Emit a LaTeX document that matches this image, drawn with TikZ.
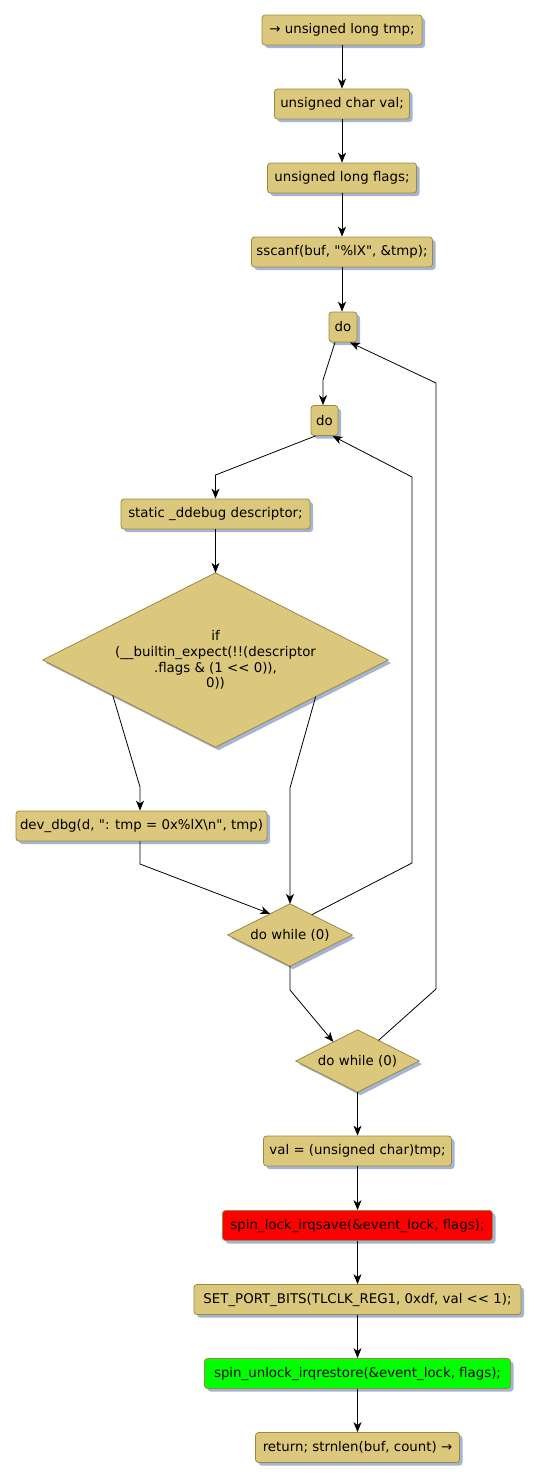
\documentclass[tikz,border=0pt]{standalone}
\usepackage{fontspec}
\setmainfont{DejaVu Sans}[Ligatures=TeXOff]
\usetikzlibrary{shadows,arrows.meta,calc}
\definecolor{boxfill}{HTML}{DCC87D}
\definecolor{boxdraw}{HTML}{9C8840}
\definecolor{shadowc}{HTML}{A4B4D4}
\definecolor{lockred}{HTML}{FF0000}
\definecolor{lockgreen}{HTML}{00FF00}
\tikzset{
  bshadow/.style={drop shadow={shadow xshift=3pt, shadow yshift=-3pt, fill=shadowc, opacity=1}},
  stepbox/.style={draw=boxdraw, fill=boxfill, rounded corners=3pt, line width=0.8pt,
    minimum height=30pt, inner xsep=4pt, inner ysep=0pt,
    font=\fontsize{13.35}{15.8}\selectfont, bshadow},
  decidearea/.style={inner sep=0pt, font=\fontsize{13.35}{15.8}\selectfont, align=center},
  decideshape/.style={draw=boxdraw, fill=boxfill, line width=0.8pt, bshadow},
  flow/.style={draw=black, line width=0.8pt, -{Stealth[length=10pt,width=8pt,inset=3pt]}}
}
\begin{document}
\begin{tikzpicture}[x=1pt,y=-1pt]
\useasboundingbox (0,0) rectangle (539,1481);
\node[stepbox, minimum width=160pt] (n1) at (342,30) {→ unsigned long tmp;};
\node[stepbox, minimum width=135pt] (n2) at (342,104) {unsigned char val;};
\node[stepbox, minimum width=149pt] (n3) at (342,178) {unsigned long flags;};
\node[stepbox, minimum width=181pt] (n4) at (342,252) {sscanf(buf, "\%lX", \&tmp);};
\node[stepbox, minimum width=28pt, inner xsep=2pt] (do1) at (343,327) {do};
\node[stepbox, minimum width=27pt, inner xsep=2pt] (do2) at (324.5,420.5) {do};
\node[stepbox, minimum width=189pt] (n7) at (215.5,514) {static \_ddebug descriptor;};
% decision diamond
\node[decidearea, minimum width=345pt, minimum height=174pt] (dia) at (215.5,660) {};
\path[decideshape] (dia.north) -- (dia.east) -- (dia.south) -- (dia.west) -- cycle;
\node[decidearea] (diatext) at (dia.center)
  {if\\(\_\_builtin\_expect(!!(descriptor\\.flags \& (1 << 0)),\\0))};
\node[stepbox, minimum width=251pt] (dbg) at (141.5,826) {dev\_dbg(d, ": tmp = 0x\%lX\textbackslash n", tmp)};
\node[decidearea, minimum width=124pt, minimum height=62pt] (dw1) at (290,935) {};
\path[decideshape] (dw1.north) -- (dw1.east) -- (dw1.south) -- (dw1.west) -- cycle;
\node[decidearea] (dw1text) at (dw1.center) {do while (0)};
\node[decidearea, minimum width=123pt, minimum height=62pt] (dw2) at (357.5,1061) {};
\path[decideshape] (dw2.north) -- (dw2.east) -- (dw2.south) -- (dw2.west) -- cycle;
\node[decidearea] (dw2text) at (dw2.center) {do while (0)};
\node[stepbox, minimum width=188pt] (val) at (357.5,1151) {val = (unsigned char)tmp;};
\node[stepbox, minimum width=270pt, fill=lockred] (lock) at (357.5,1225.5) {spin\_lock\_irqsave(\&event\_lock, flags);};
\node[stepbox, minimum width=327pt] (port) at (357.5,1299.5) {SET\_PORT\_BITS(TLCLK\_REG1, 0xdf, val << 1);};
\node[stepbox, minimum width=306pt, fill=lockgreen] (unlock) at (357.5,1373.5) {spin\_unlock\_irqrestore(\&event\_lock, flags);};
\node[stepbox, minimum width=204pt] (ret) at (357.5,1447.5) {return; strnlen(buf, count) →};

\coordinate (b1) at (323,380);
\coordinate (b2) at (215.5,475);
\coordinate (b3) at (140,787);
\coordinate (b4) at (290,788);
\coordinate (b5) at (140,864);
\coordinate (b6) at (412,863);
\coordinate (b7) at (412,477);
\coordinate (b8) at (290,990);
\coordinate (b9) at (436,989);
\coordinate (b10) at (436,383);

\draw[flow] (n1) -- (n2);
\draw[flow] (n2) -- (n3);
\draw[flow] (n3) -- (n4);
\draw[flow] (n4) -- (n4 |- do1.north);
\draw[flow] ($(do1.south)+(-8,0)$) -- (b1) -- (b1 |- do2.north);
\draw[flow] ($(do2.south)+(-9,0)$) -- (b2) -- (n7.north);
\draw[flow] (n7) -- (dia.north);
\draw[flow] ($(dia.west)!0.405!(dia.south)$) -- (b3) -- (b3 |- dbg.north);
\draw[flow] ($(dia.east)!0.42!(dia.south)$) -- (b4) -- (dw1.north);
\draw[flow] (dbg.south -| b5) -- (b5) -- ($(dw1.north)!0.32!(dw1.west)$);
\draw[flow] ($(dw1.north)!0.35!(dw1.east)$) -- (b6) -- (b7) -- ($(do2.south)+(8,0)$);
\draw[flow] (dw1.south) -- (b8) -- ($(dw2.north)!0.39!(dw2.west)$);
\draw[flow] ($(dw2.north)!0.34!(dw2.east)$) -- (b9) -- (b10) -- ($(do1.south)+(7,0)$);
\draw[flow] (dw2.south) -- (val.north);
\draw[flow] (val) -- (lock);
\draw[flow] (lock) -- (port);
\draw[flow] (port) -- (unlock);
\draw[flow] (unlock) -- (ret);
\end{tikzpicture}
\end{document}
